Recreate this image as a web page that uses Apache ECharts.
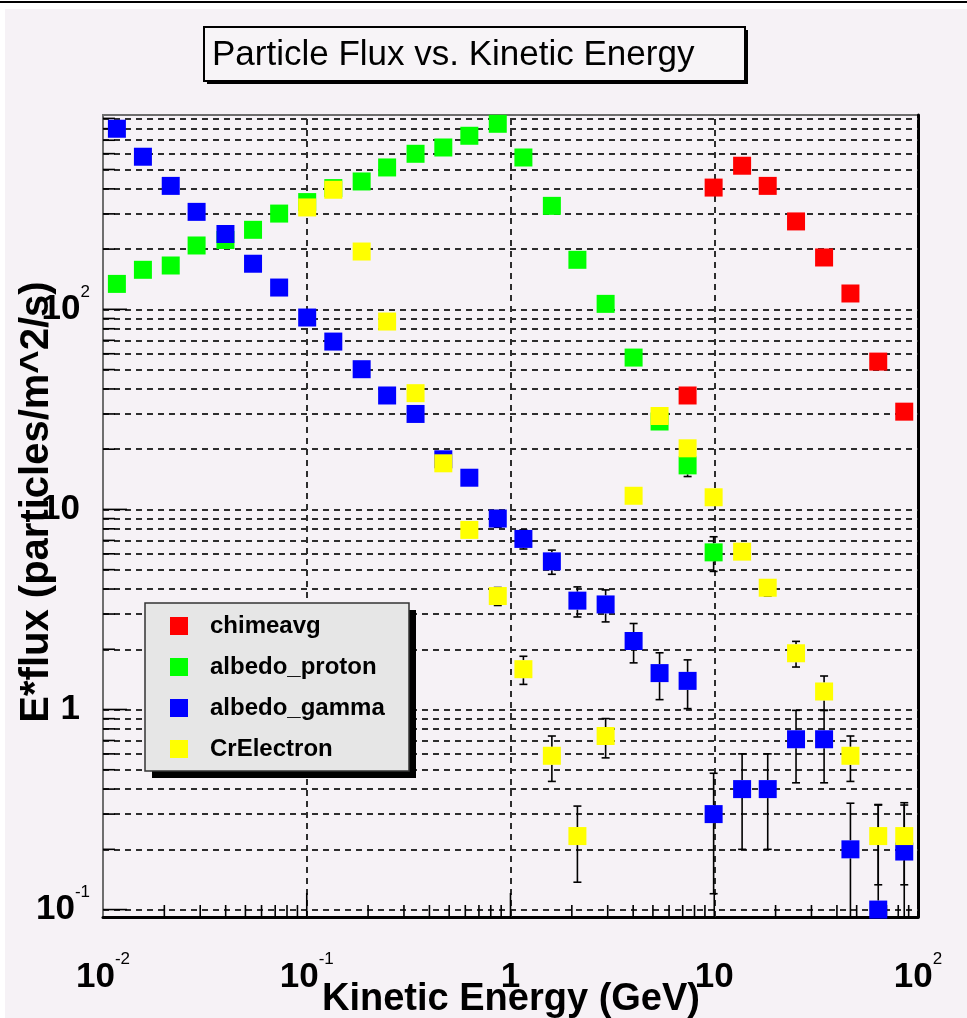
<!DOCTYPE html>
<html><head><meta charset="utf-8">
<script src="https://cdn.jsdelivr.net/npm/echarts@6/dist/echarts.min.js"></script>
<style>
html,body{margin:0;padding:0;background:#fff;}
#bg{position:absolute;left:5px;top:9px;width:962px;height:1009px;background:#f6f2f6;}
#topline{position:absolute;left:0;top:1px;width:967px;height:2px;background:#000;}
#chart{position:absolute;left:0;top:0;width:967px;height:1018px;}
</style></head><body>
<div id="bg"></div><div id="topline"></div><div id="chart"></div>
<script>
// ---------- data ----------
const energy = [0.0117, 0.0157, 0.0215, 0.0288, 0.0399, 0.0545, 0.0732, 0.1005, 0.135, 0.186,
                0.248, 0.342, 0.468, 0.628, 0.866, 1.157, 1.596, 2.13, 2.93, 4.02,
                5.39, 7.40, 9.93, 13.7, 18.3, 25.2, 34.6, 46.6, 63.8, 85.6];
const chimeavg = [null, null, null, null, null, null, null, null, null, null,
                  null, null, null, null, null, null, null, null, null, null,
                  null, 37.1, 406, 522, 414, 275, 181.6, 120, 54.8, 30.8];
const albedoProton = [134, 157.6, 165.6, 208.5, 222, 249.7, 301, 343.6, 403.6, 435.6,
                      511.8, 599, 644, 737, 846, 574, 329, 176.8, 106.5, 57.4,
                      27.5, 16.6, 6.1, null, null, null, null, null, null, null];
const albedoProtonErr = [0, 0, 0, 0, 0, 0, 0, 0, 0, 0,
                         0, 0, 0, 0, 0, 0, 0, 0, 0, 0,
                         2.2, 2.0, 1.2, 0, 0, 0, 0, 0, 0, 0];
const albedoGamma = [799, 579, 414, 307, 238, 169, 128.5, 91, 69, 50.2,
                     37.1, 30.0, 17.8, 14.4, 9.0, 7.12, 5.5, 3.5, 3.35, 2.2,
                     1.52, 1.39, 0.30, 0.40, 0.40, 0.71, 0.71, 0.20, 0.10, 0.195];
const albedoGammaErr = [0, 0, 0, 0, 0, 0, 0, 0, 0, 0,
                        0, 0, 0, 0, 0.86, 0.78, 0.76, 0.60, 0.61, 0.49,
                        0.40, 0.38, 0.18, 0.20, 0.20, 0.28, 0.28, 0.14, 0.235, 0.147];
const crElectron = [null, null, null, null, null, null, null, 323, 396, 194.5,
                    86.9, 38.1, 17.0, 7.9, 3.69, 1.59, 0.587, 0.233, 0.737, 11.7,
                    29.3, 20.2, 11.5, 6.15, 4.06, 1.91, 1.23, 0.587, 0.233, 0.233];
const crElectronErr = [0, 0, 0, 0, 0, 0, 0, 0, 0, 0,
                       0, 0, 0, 0, 0.38, 0.255, 0.15, 0.096, 0.164, 0,
                       0, 0, 0, 0, 0.37, 0.28, 0.24, 0.15, 0.10, 0.10];

const seriesNames = ['chimeavg', 'albedo_proton', 'albedo_gamma', 'CrElectron'];

const xTickValues = [0.01, 0.1, 1, 10, 100];
const xTickLabels = ['10^-2', '10^-1', '1', '10', '10^2'];
const yTickValues = [0.1, 1, 10, 100];
const yTickLabels = ['10^-1', '1', '10', '10^2'];

const xMajorTicks = [0.1, 1, 10];
const xMinorTicks = [0.02, 0.03, 0.04, 0.05, 0.06, 0.07, 0.08, 0.09,
                     0.2, 0.3, 0.4, 0.5, 0.6, 0.7, 0.8, 0.9,
                     2, 3, 4, 5, 6, 7, 8, 9,
                     20, 30, 40, 50, 60, 70, 80, 90];
const yMajorTicks = [0.1, 1, 10, 100];
const yMinorTicks = [0.2, 0.3, 0.4, 0.5, 0.6, 0.7, 0.8, 0.9,
                     2, 3, 4, 5, 6, 7, 8, 9,
                     20, 30, 40, 50, 60, 70, 80, 90,
                     200, 300, 400, 500, 600, 700, 800, 900];
const gridLinesX = [0.1, 1, 10];
const gridLinesY = yMajorTicks.concat(yMinorTicks);

const X_MIN = 0.01, X_MAX = 100, Y_MIN = 0.0918, Y_MAX = 936;

// ---------- helpers ----------
const FONT = "'Liberation Sans', Arial, Helvetica, sans-serif";
const MARK = 18;

function pairs(vals) {
  const out = [];
  energy.forEach((x, i) => { if (vals[i] != null) out.push([x, vals[i]]); });
  return out;
}
function errData(vals, errs) {
  const out = [];
  energy.forEach((x, i) => { if (vals[i] != null && errs[i] > 0) out.push([x, vals[i], errs[i]]); });
  return out;
}
function errRender(params, api) {
  const x = api.value(0), y = api.value(1), e = api.value(2);
  const c = api.coord([x, y]);
  const hi = api.coord([x, y + e]);
  const lowV = y - e > 0 ? y - e : Y_MIN / 10;
  const lo = api.coord([x, lowV]);
  const h = MARK / 2, cap = 4;
  const st = { stroke: '#000', lineWidth: 1.6 };
  const ch = [];
  if (hi[1] < c[1] - h) ch.push({ type: 'line', shape: { x1: c[0], y1: c[1] - h, x2: c[0], y2: hi[1] }, style: st });
  ch.push({ type: 'line', shape: { x1: c[0] - cap, y1: hi[1], x2: c[0] + cap, y2: hi[1] }, style: st });
  if (lo[1] > c[1] + h) ch.push({ type: 'line', shape: { x1: c[0], y1: c[1] + h, x2: c[0], y2: lo[1] }, style: st });
  if (y - e > 0) ch.push({ type: 'line', shape: { x1: c[0] - cap, y1: lo[1], x2: c[0] + cap, y2: lo[1] }, style: st });
  return { type: 'group', children: ch };
}
function tickRender(params, api) {
  const which = api.value(2), len = api.value(3);
  const st = { stroke: '#000', lineWidth: 1.6 };
  if (which === 0) {
    const p = api.coord([X_MIN, api.value(1)]);
    return { type: 'line', shape: { x1: p[0], y1: p[1], x2: p[0] + len, y2: p[1] }, style: st };
  }
  const p = api.coord([api.value(0), Y_MIN]);
  return { type: 'line', shape: { x1: p[0], y1: p[1], x2: p[0], y2: p[1] - len }, style: st };
}
const tickData = []
  .concat(yMajorTicks.map(v => [X_MIN, v, 0, 24]))
  .concat(yMinorTicks.map(v => [X_MIN, v, 0, 12]))
  .concat(xMajorTicks.map(v => [v, Y_MIN, 1, 24]))
  .concat(xMinorTicks.map(v => [v, Y_MIN, 1, 12]));

function labelFormatter(values, labels, pad) {
  return function (v) {
    for (let i = 0; i < values.length; i++) {
      if (Math.abs(Math.log10(v) - Math.log10(values[i])) < 1e-6) {
        const parts = labels[i].split('^');
        if (parts.length > 1) return '{b|' + parts[0] + '}{s|' + parts[1] + '}';
        return '{b|' + parts[0] + '}' + (pad ? '{sp| }' : '');
      }
    }
    return '';
  };
}
const rich = {
  b: { fontFamily: FONT, fontWeight: 'bold', fontSize: 35, lineHeight: 52, color: '#000' },
  s: { fontFamily: FONT, fontSize: 17, lineHeight: 17, verticalAlign: 'top', color: '#000' },
  sp: { fontFamily: FONT, fontSize: 17, width: 10 }
};
function scatter(name, color, vals) {
  return { name: name, type: 'scatter', symbol: 'rect', symbolSize: MARK, z: 3,
           itemStyle: { color: color, opacity: 1 }, emphasis: { disabled: true },
           data: pairs(vals) };
}
function errors(name, vals, errs) {
  return { name: name, type: 'custom', renderItem: errRender, clip: true, silent: true,
           data: errData(vals, errs), z: 3 };
}

const chart = echarts.init(document.getElementById('chart'), null, { renderer: 'canvas' });
chart.setOption({
  animation: false,
  backgroundColor: 'transparent',
  textStyle: { fontFamily: FONT },
  grid: { left: 103, top: 115, width: 815, height: 802, show: true,
          borderColor: '#6e6e6e', borderWidth: 2, backgroundColor: 'transparent' },
  xAxis: [{
    type: 'log', logBase: 10, min: X_MIN, max: X_MAX,
    axisLine: { show: true, onZero: false, lineStyle: { color: '#000', width: 3 } },
    axisTick: { show: false }, splitLine: { show: false },
    axisLabel: { margin: 34, formatter: labelFormatter(xTickValues, xTickLabels, false), rich: rich }
  }],
  yAxis: [{
    type: 'log', logBase: 10, min: Y_MIN, max: Y_MAX,
    axisLine: { show: false }, axisTick: { show: false }, splitLine: { show: false },
    axisLabel: { margin: 13, showMinLabel: false, showMaxLabel: false,
                 formatter: labelFormatter(yTickValues, yTickLabels, true), rich: rich }
  }, {
    type: 'log', logBase: 10, min: Y_MIN, max: Y_MAX, position: 'right',
    axisLine: { show: true, lineStyle: { color: '#000', width: 3 } },
    axisTick: { show: false }, splitLine: { show: false }, axisLabel: { show: false }
  }],
  legend: {
    orient: 'vertical', left: 170, top: 614, padding: 0,
    itemWidth: 18, itemHeight: 18, itemGap: 17, icon: 'rect',
    selectedMode: false, data: seriesNames, z: 8,
    itemStyle: { opacity: 1 },
    textStyle: { fontFamily: FONT, fontSize: 24, fontWeight: 'bold', color: '#000',
                 lineHeight: 24, padding: [0, 0, 0, 17] }
  },
  graphic: [
    { type: 'rect', z: 7, shape: { x: 152, y: 610, width: 264, height: 168 }, style: { fill: '#000' } },
    { type: 'rect', z: 7, shape: { x: 145, y: 603, width: 264, height: 168 },
      style: { fill: '#e6e6e6', stroke: '#333', lineWidth: 1.5 } },
    { type: 'rect', z: 7, shape: { x: 207, y: 30, width: 541, height: 54 }, style: { fill: '#000' } },
    { type: 'rect', z: 7, shape: { x: 204, y: 27, width: 541, height: 54 },
      style: { fill: '#f7f4f7', stroke: '#000', lineWidth: 2 } },
    { type: 'text', z: 8, x: 212, y: 55,
      style: { text: 'Particle Flux vs. Kinetic Energy', font: "35px " + FONT, fill: '#000',
               textAlign: 'left', textVerticalAlign: 'middle' } },
    { type: 'text', z: 10, x: 37, y: 502, rotation: Math.PI / 2,
      style: { text: 'E*flux (particles/m^2/s)', font: "bold 40px " + FONT, fill: '#000',
               textAlign: 'center', textVerticalAlign: 'middle' } },
    { type: 'text', z: 10, x: 511, y: 1000,
      style: { text: 'Kinetic Energy (GeV)', font: "bold 38px " + FONT, fill: '#000',
               textAlign: 'center', textVerticalAlign: 'middle' } }
  ],
  series: [
    { name: 'grid', type: 'scatter', data: [], silent: true, z: 1,
      markLine: { silent: true, symbol: ['none', 'none'], animation: false, z: 1,
        label: { show: false },
        lineStyle: { type: [6, 5], color: '#2e2e2e', width: 2 },
        emphasis: { disabled: true },
        data: gridLinesY.map(v => ({ yAxis: v })).concat(gridLinesX.map(v => ({ xAxis: v }))) } },
    { name: 'ticks', type: 'custom', renderItem: tickRender, data: tickData, silent: true, clip: false, z: 1 },
    scatter(seriesNames[0], '#ff0000', chimeavg),
    scatter(seriesNames[1], '#00ff00', albedoProton),
    errors('proton_err', albedoProton, albedoProtonErr),
    scatter(seriesNames[2], '#0000ff', albedoGamma),
    errors('gamma_err', albedoGamma, albedoGammaErr),
    scatter(seriesNames[3], '#ffff00', crElectron),
    errors('electron_err', crElectron, crElectronErr)
  ]
});
</script>
</body></html>
